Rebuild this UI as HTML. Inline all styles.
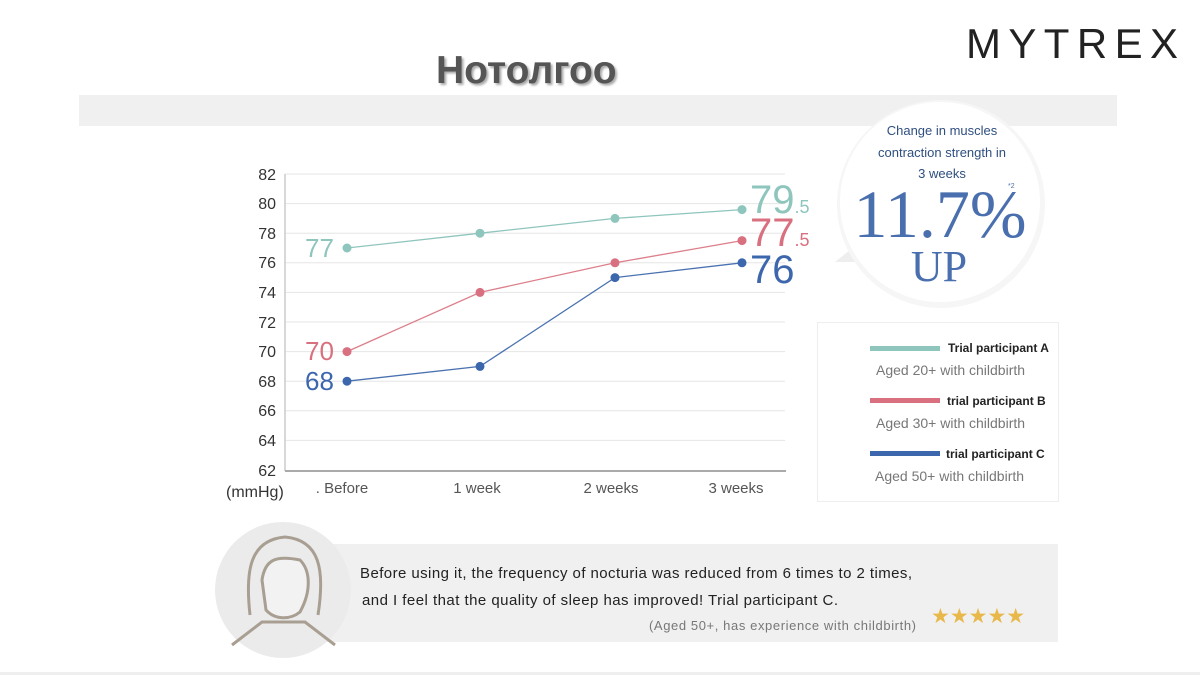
<!DOCTYPE html>
<html><head><meta charset="utf-8"><style>
body{margin:0;width:1200px;height:675px;background:#fff;position:relative;overflow:hidden;font-family:"Liberation Sans",sans-serif}
.a{position:absolute}
</style></head><body>
<div class="a" style="left:79px;top:95px;width:1038px;height:31px;background:#f0f0f0"></div>
<div class="a" style="left:436px;top:49px;font-size:39px;font-weight:bold;color:#555;text-shadow:2px 2px 2px #aaa">Нотолгоо</div>
<div class="a" style="left:0;top:672px;width:1200px;height:3px;background:#eee"></div>
<svg class="a" style="left:0;top:0" width="1200" height="675">
<text x="966" y="58" font-size="42" fill="#222" textLength="212" lengthAdjust="spacing">MYTREX</text>
<g stroke="#e6e6e6" stroke-width="1">
<line x1="285" x2="785" y1="174" y2="174"/><line x1="285" x2="785" y1="203.6" y2="203.6"/><line x1="285" x2="785" y1="233.2" y2="233.2"/><line x1="285" x2="785" y1="262.8" y2="262.8"/><line x1="285" x2="785" y1="292.4" y2="292.4"/><line x1="285" x2="785" y1="322" y2="322"/><line x1="285" x2="785" y1="351.6" y2="351.6"/><line x1="285" x2="785" y1="381.2" y2="381.2"/><line x1="285" x2="785" y1="410.8" y2="410.8"/><line x1="285" x2="785" y1="440.4" y2="440.4"/>
</g>
<line x1="285" x2="285" y1="174" y2="471" stroke="#ccc" stroke-width="1.5"/>
<line x1="285" x2="786" y1="471" y2="471" stroke="#aaa" stroke-width="2"/>
<g font-size="16" fill="#333" text-anchor="end">
<text x="276" y="180">82</text><text x="276" y="209">80</text><text x="276" y="239">78</text><text x="276" y="268">76</text><text x="276" y="298">74</text><text x="276" y="328">72</text><text x="276" y="357">70</text><text x="276" y="387">68</text><text x="276" y="416">66</text><text x="276" y="446">64</text><text x="276" y="476">62</text>
</g>
<text x="226" y="497" font-size="16" fill="#333">(mmHg)</text>
<g font-size="15" fill="#555" text-anchor="middle">
<text x="342" y="493">. Before</text><text x="477" y="493">1 week</text><text x="611" y="493">2 weeks</text><text x="736" y="493">3 weeks</text>
</g>
<polyline points="347,248 480,233.2 615,218.4 742,209.6" fill="none" stroke="#8ec5bd" stroke-width="1.3"/>
<polyline points="347,351.6 480,292.4 615,262.8 742,240.6" fill="none" stroke="#dc7f8b" stroke-width="1.3"/>
<polyline points="347,381.2 480,366.4 615,277.6 742,262.8" fill="none" stroke="#4a72b0" stroke-width="1.3"/>
<g fill="#8ec5bd"><circle cx="347" cy="248" r="4.5"/><circle cx="480" cy="233.2" r="4.5"/><circle cx="615" cy="218.4" r="4.5"/><circle cx="742" cy="209.6" r="4.5"/></g>
<g fill="#d8707f"><circle cx="347" cy="351.6" r="4.5"/><circle cx="480" cy="292.4" r="4.5"/><circle cx="615" cy="262.8" r="4.5"/><circle cx="742" cy="240.6" r="4.5"/></g>
<g fill="#3d67ad"><circle cx="347" cy="381.2" r="4.5"/><circle cx="480" cy="366.4" r="4.5"/><circle cx="615" cy="277.6" r="4.5"/><circle cx="742" cy="262.8" r="4.5"/></g>
<g font-size="26"><text x="305" y="257" fill="#8ec5bd">77</text><text x="305" y="360" fill="#d8707f">70</text><text x="305" y="390" fill="#3d67ad">68</text></g>
<text x="750" y="213" font-size="40" fill="#8ec5bd">79<tspan font-size="18">.5</tspan></text>
<text x="750" y="246" font-size="40" fill="#d8707f">77<tspan font-size="18">.5</tspan></text>
<text x="750" y="283" font-size="40" fill="#3d67ad">76</text>
<path d="M850,250 L835,262 L862,262Z" fill="#eee"/>
<circle cx="941" cy="204" r="104" fill="#f6f6f6"/>
<circle cx="940" cy="202" r="100" fill="#fff"/>
<g fill="#2f4f7f" font-size="13" text-anchor="middle"><text x="942" y="135">Change in muscles</text><text x="942" y="157">contraction strength in</text><text x="942" y="178">3 weeks</text></g>
<text x="940" y="237" font-family="Liberation Serif,serif" font-size="68" fill="#4a6fae" text-anchor="middle">11.7%</text>
<text x="1008" y="188" font-size="7" fill="#4a6fae">*2</text>
<text x="939" y="281" font-family="Liberation Serif,serif" font-size="44" fill="#4a6fae" text-anchor="middle">UP</text>
<rect x="817.5" y="322.5" width="241" height="179" fill="#fff" stroke="#eee"/>
<rect x="870" y="346" width="70" height="5" fill="#8ec5bd"/><rect x="870" y="398" width="70" height="5" fill="#d8707f"/><rect x="870" y="451" width="70" height="5" fill="#3d67ad"/>
<g font-size="12" font-weight="bold" fill="#222"><text x="948" y="352">Trial participant A</text><text x="947" y="405">trial participant B</text><text x="946" y="458">trial participant C</text></g>
<g font-size="14" fill="#777"><text x="876" y="375">Aged 20+ with childbirth</text><text x="876" y="428">Aged 30+ with childbirth</text><text x="875" y="481">Aged 50+ with childbirth</text></g>
<rect x="248" y="544" width="810" height="98" fill="#f0f0f0"/>
<circle cx="283" cy="590" r="68" fill="#ebebeb"/>
<g fill="none" stroke="#a89f92" stroke-width="3">
<path d="M250,615 C245,570 250,540 285,537 C320,540 325,570 318,615"/>
<path d="M262,580 C265,560 275,555 300,560 C310,570 312,590 300,612 C290,620 275,620 266,610 Z" fill="#f2f2f2"/>
<path d="M232,645 L262,622 L305,622 L335,645"/>
</g>
<g font-size="15" fill="#222"><text x="360" y="578" textLength="552">Before using it, the frequency of nocturia was reduced from 6 times to 2 times,</text><text x="362" y="605" textLength="476">and I feel that the quality of sleep has improved! Trial participant C.</text></g>
<text x="649" y="630" font-size="13" fill="#777" textLength="267">(Aged 50+, has experience with childbirth)</text>
<text x="931" y="623" font-size="21" fill="#e8b84a">★★★★★</text>
</svg>
</body></html>
